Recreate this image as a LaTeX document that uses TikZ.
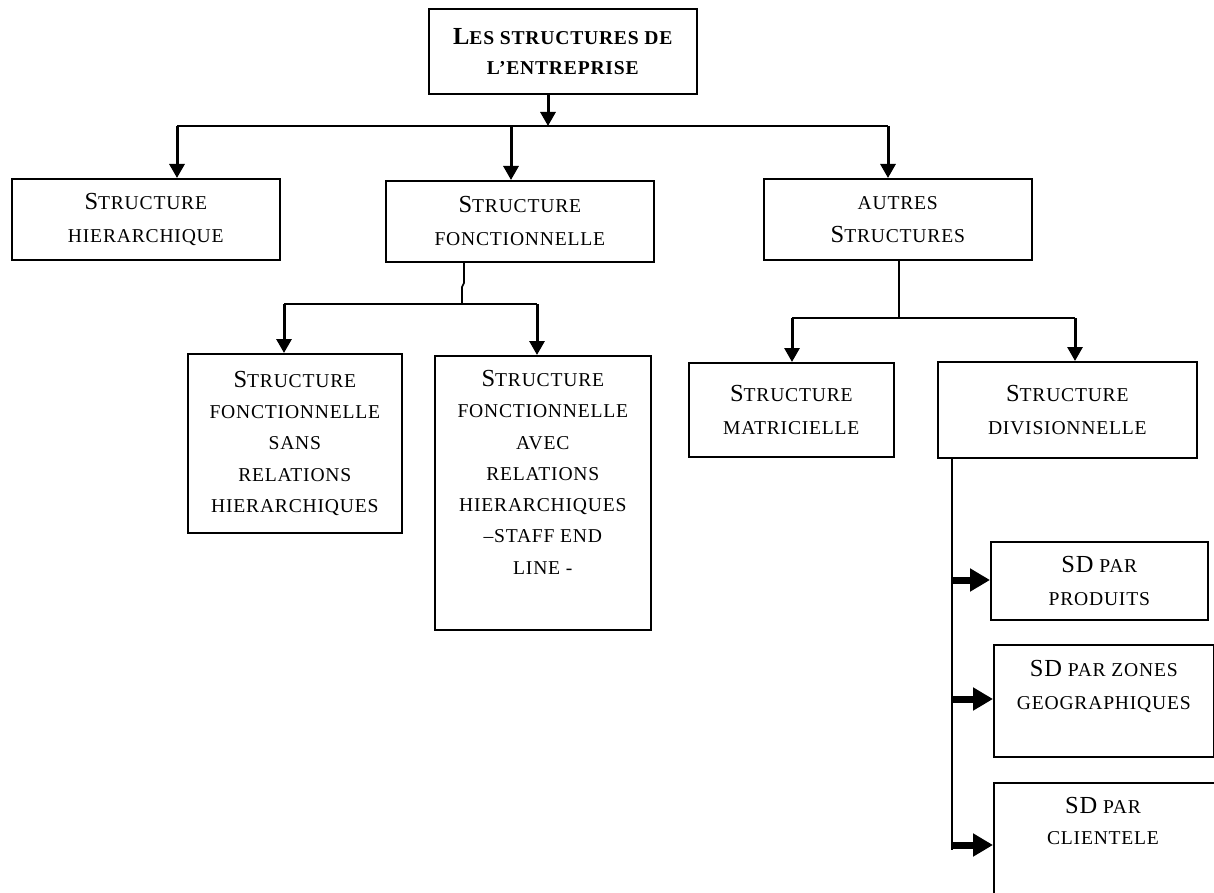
\documentclass[tikz,border=0pt]{standalone}
\usepackage{fontspec}
\setmainfont{Liberation Serif}[LetterSpace=4]
\usetikzlibrary{arrows.meta}
\newcommand{\Bg}[1]{{\fontsize{24.5pt}{32pt}\selectfont #1}}
\begin{document}
\begin{tikzpicture}[x=1pt,y=-1pt,
  box/.style={draw, line width=1.6pt, inner sep=0pt, align=center, anchor=north west,
    font=\fontsize{19.6pt}{33pt}\selectfont},
  txt/.style={inner sep=0pt, align=center, anchor=north,
    font=\fontsize{19.6pt}{31.3pt}\selectfont},
  link/.style={line width=1.6pt},
  darrow/.style={line width=3pt, -{Triangle[width=15pt,length=14pt]}},
  sarrow/.style={line width=7pt, -{Triangle[width=22pt,length=20pt]}}]
\useasboundingbox (0,0) rectangle (1214,893);
\clip (0,0) rectangle (1214,893);

% boxes
\node[box, minimum width=268pt, minimum height=85pt,
  font=\fontsize{19.6pt}{30pt}\selectfont\bfseries] (top) at (428,8)
  {\Bg{L}ES STRUCTURES DE\\L'ENTREPRISE};
\node[box, minimum width=268pt, minimum height=81pt] (hier) at (11,178)
  {\Bg{S}TRUCTURE\\HIERARCHIQUE};
\node[box, minimum width=268pt, minimum height=81pt] (fonc) at (385,180)
  {\Bg{S}TRUCTURE\\FONCTIONNELLE};
\node[box, minimum width=268pt, minimum height=81pt] (autres) at (763,178)
  {AUTRES\\\Bg{S}TRUCTURES};
\node[box, minimum width=214pt, minimum height=179pt,
  font=\fontsize{19.6pt}{31.3pt}\selectfont] (sans) at (187,353)
  {\Bg{S}TRUCTURE\\FONCTIONNELLE\\SANS\\RELATIONS\\HIERARCHIQUES};
\node[box, minimum width=216pt, minimum height=274pt] (avec) at (434,355) {};
\node[txt, yshift=-15pt] (avect) at (avec.north)
  {\Bg{S}TRUCTURE\\FONCTIONNELLE\\AVEC\\RELATIONS\\HIERARCHIQUES\\--STAFF END\\LINE -};
\node[box, minimum width=205pt, minimum height=94pt] (mat) at (688,362)
  {\Bg{S}TRUCTURE\\MATRICIELLE};
\node[box, minimum width=259pt, minimum height=96pt] (div) at (937,361)
  {\Bg{S}TRUCTURE\\DIVISIONNELLE};
\node[box, minimum width=217pt, minimum height=78pt] (prod) at (990,541)
  {\Bg{SD} PAR\\PRODUITS};
\node[box, minimum width=220pt, minimum height=112pt] (zone) at (993,644) {};
\node[txt, yshift=-16pt, font=\fontsize{19.6pt}{33pt}\selectfont] (zonet) at (zone.north)
  {\Bg{SD} PAR ZONES\\GEOGRAPHIQUES};
\node[box, minimum width=245pt, minimum height=200pt] (cli) at (993,782) {};
\node[txt] (clit) at (1103,797) {\Bg{SD} PAR\\CLIENTELE};

% top level
\coordinate (tj) at (548,126);
\coordinate (b1) at (177,126);
\coordinate (bf) at (511,126);
\coordinate (b2) at (888,126);
\draw[link] (b1) -- (b2);
\draw[darrow] (top.south -| tj) -- (tj);
\draw[darrow] (b1) -- (b1 |- hier.north);
\draw[darrow] (bf) -- (bf |- fonc.north);
\draw[darrow] (b2) -- (b2 |- autres.north);

% fonctionnelle branch
\coordinate (fk1) at (464,283);
\coordinate (fk2) at (462,287);
\coordinate (fj) at (462,304);
\coordinate (c1) at (284,304);
\coordinate (c2) at (537,304);
\draw[link] (fonc.south -| fk1) -- (fk1) -- (fk2) -- (fj);
\draw[link] (c1) -- (c2);
\draw[darrow] (c1) -- (c1 |- sans.north);
\draw[darrow] (c2) -- (c2 |- avec.north);

% autres branch
\coordinate (aj) at (899,318);
\coordinate (d1) at (792,318);
\coordinate (d2) at (1075,318);
\draw[link] (autres.south -| aj) -- (aj);
\draw[link] (d1) -- (d2);
\draw[darrow] (d1) -- (d1 |- mat.north);
\draw[darrow] (d2) -- (d2 |- div.north);

% divisionnelle branch
\coordinate (v0) at (952,850);
\coordinate (s1) at (952,580);
\coordinate (s2) at (952,699);
\coordinate (s3) at (952,845);
\draw[link] (div.south -| v0) -- (v0);
\draw[sarrow] (s1) -- (s1 -| prod.west);
\draw[sarrow] (s2) -- (s2 -| zone.west);
\draw[sarrow] (s3) -- (s3 -| cli.west);
\end{tikzpicture}
\end{document}
